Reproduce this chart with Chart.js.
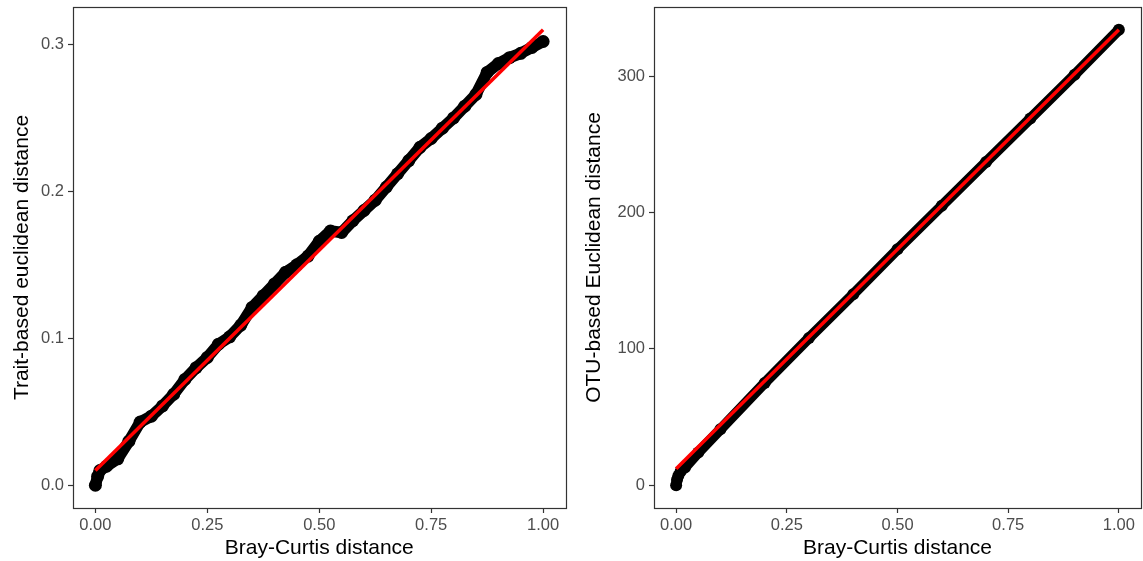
<!DOCTYPE html>
<html>
<head>
<meta charset="utf-8">
<script src="https://cdn.jsdelivr.net/npm/chart.js@4.4.0/dist/chart.umd.min.js"></script>
<style>
  html, body { margin: 0; padding: 0; background: #fff; overflow: hidden; }
  canvas { position: absolute; top: 0; }
</style>
</head>
<body>
<canvas id="grafico-trait" width="572" height="561" style="left:0px;"></canvas>
<canvas id="grafico-otu" width="575" height="561" style="left:572px;"></canvas>
<script>
// Dados do painel esquerdo (distância euclidiana baseada em traços)
var brayTrait = [0, 0.005, 0.01, 0.025, 0.05, 0.075, 0.1, 0.125, 0.15, 0.175, 0.2, 0.225, 0.25, 0.275, 0.3,
                 0.325, 0.35, 0.375, 0.4, 0.425, 0.45, 0.475, 0.5, 0.525, 0.55, 0.575, 0.6, 0.625, 0.65,
                 0.675, 0.7, 0.725, 0.75, 0.775, 0.8, 0.825, 0.85, 0.875, 0.9, 0.925, 0.95, 0.975, 1.0];
var euclTrait = [0.000, 0.006, 0.010, 0.013, 0.018, 0.030, 0.043, 0.047, 0.054, 0.062, 0.072, 0.080, 0.087,
                 0.096, 0.101, 0.109, 0.121, 0.129, 0.137, 0.145, 0.150, 0.156, 0.166, 0.173, 0.172, 0.180,
                 0.187, 0.194, 0.203, 0.212, 0.221, 0.230, 0.236, 0.243, 0.250, 0.258, 0.266, 0.281, 0.287,
                 0.291, 0.294, 0.298, 0.302];
var ajusteTraitX = [0, 1];
var ajusteTraitY = [0.01, 0.31];

// Dados do painel direito (distância euclidiana baseada em OTUs)
var brayOtu = [0, 0.002, 0.005, 0.01, 0.02, 0.05, 0.1, 0.2, 0.3, 0.4, 0.5, 0.6, 0.7, 0.8, 0.9, 1.0];
var euclOtu = [0, 4, 7, 10, 13, 24, 41, 75, 108, 140, 173, 205, 237, 269, 301, 334];
var ajusteOtuX = [0, 1];
var ajusteOtuY = [12, 334];

// Marcas dos eixos
var ticksX = [0, 0.25, 0.5, 0.75, 1];
var ticksTraitY = [0, 0.1, 0.2, 0.3];
var ticksOtuY = [0, 100, 200, 300];

// Função para juntar x e y em pontos
function pontos(xs, ys) {
    return xs.map(function(x, i) { return { x: x, y: ys[i] }; });
}

// Plugin que desenha a moldura do painel
var moldura = {
    id: 'moldura',
    afterDraw: function(chart) {
        var a = chart.chartArea;
        var ctx = chart.ctx;
        ctx.save();
        ctx.strokeStyle = '#333333';
        ctx.lineWidth = 1.2;
        ctx.strokeRect(Math.round(a.left) + 0.5, Math.round(a.top) + 0.5,
                       Math.round(a.right - a.left), Math.round(a.bottom - a.top));
        ctx.restore();
    }
};

// Função para criar um painel
function criarPainel(id, xs, ys, fitX, fitY, yMin, yMax, yTicks, yDecimais, tituloY, larguraY, raio) {
    var ctx = document.getElementById(id).getContext('2d');
    return new Chart(ctx, {
        type: 'scatter',
        data: {
            datasets: [{
                data: pontos(fitX, fitY),
                showLine: true,
                borderColor: '#ff0000',
                borderWidth: 3.5,
                pointRadius: 0,
                order: 0
            }, {
                data: pontos(xs, ys),
                showLine: true,
                borderColor: '#000000',
                backgroundColor: '#000000',
                borderWidth: raio * 2 - 1.5,
                borderCapStyle: 'round',
                borderJoinStyle: 'round',
                pointRadius: raio,
                pointBorderWidth: 0,
                order: 1
            }]
        },
        options: {
            responsive: false,
            animation: false,
            devicePixelRatio: 1,
            layout: { padding: { top: 7, right: 2, left: 0, bottom: 0 } },
            plugins: { legend: { display: false }, tooltip: { enabled: false } },
            scales: {
                x: {
                    type: 'linear',
                    min: -0.05,
                    max: 1.05,
                    afterBuildTicks: function(s) { s.ticks = ticksX.map(function(v) { return { value: v }; }); },
                    afterFit: function(s) { s.height = 53; s.paddingLeft = 0; s.paddingRight = 0; },
                    grid: { drawOnChartArea: false, color: '#333333', tickLength: 5, tickWidth: 1.2 },
                    border: { display: false },
                    ticks: {
                        padding: 3,
                        color: '#4d4d4d',
                        font: { family: 'Liberation Sans', size: 16.5 },
                        callback: function(v) { return v.toFixed(2); }
                    },
                    title: {
                        display: true,
                        text: 'Bray-Curtis distance',
                        color: '#000000',
                        padding: { top: 0, bottom: 0 },
                        font: { family: 'Liberation Sans', size: 21 }
                    }
                },
                y: {
                    type: 'linear',
                    min: yMin,
                    max: yMax,
                    afterBuildTicks: function(s) { s.ticks = yTicks.map(function(v) { return { value: v }; }); },
                    afterFit: function(s) { s.width = larguraY; s.paddingTop = 0; s.paddingBottom = 0; },
                    grid: { drawOnChartArea: false, color: '#333333', tickLength: 5, tickWidth: 1.2 },
                    border: { display: false },
                    ticks: {
                        padding: 4,
                        color: '#4d4d4d',
                        font: { family: 'Liberation Sans', size: 16.5 },
                        callback: function(v) { return v.toFixed(yDecimais); }
                    },
                    title: {
                        display: true,
                        text: tituloY,
                        color: '#000000',
                        padding: { top: 10, bottom: 0 },
                        font: { family: 'Liberation Sans', size: 21 }
                    }
                }
            }
        },
        plugins: [moldura]
    });
}

criarPainel('grafico-trait', brayTrait, euclTrait, ajusteTraitX, ajusteTraitY,
            -0.0155, 0.3255, ticksTraitY, 1, 'Trait-based euclidean distance', 73, 6.5);
criarPainel('grafico-otu', brayOtu, euclOtu, ajusteOtuX, ajusteOtuY,
            -16.7, 350.7, ticksOtuY, 0, 'OTU-based Euclidean distance', 82, 6);
</script>
</body>
</html>
